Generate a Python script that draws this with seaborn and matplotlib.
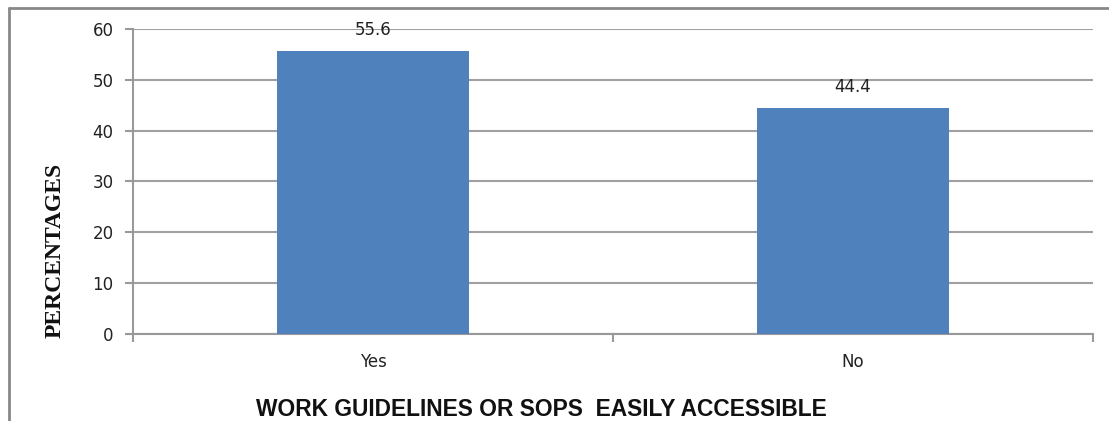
import matplotlib
matplotlib.use("Agg")
import matplotlib.pyplot as plt
import seaborn as sns
import pandas as pd
from matplotlib.lines import Line2D

categories = ["Yes", "No"]
values = [55.6, 44.4]
y_ticks = [0, 10, 20, 30, 40, 50, 60]

sns.set_theme(style="white")
plt.rcParams['font.family'] = ['DejaVu Sans']

df = pd.DataFrame({"cat": categories, "val": values})

fig = plt.figure(figsize=(11.09, 4.21), dpi=100)
ax = fig.add_axes([0.1199, 0.2067, 0.9856 - 0.1199, 0.9311 - 0.2067])

sns.barplot(data=df, x="cat", y="val", color="#4F81BD", width=0.4,
            saturation=1, ax=ax, zorder=3, linewidth=0)

ax.set_ylim(0, 60)
ax.set_xlim(-0.5, 1.5)
ax.set_yticks(y_ticks)
ax.set_yticklabels([str(t) for t in y_ticks], fontsize=12, color="#222222")
ax.yaxis.grid(True, color="#A0A0A0", linewidth=1.5, zorder=0)
ax.set_axisbelow(True)

# x tick labels at category centers, tick marks at category boundaries
ax.set_xticks([0, 1])
ax.set_xticklabels(categories, fontsize=12, color="#222222")
ax.tick_params(axis="x", length=0, pad=14)
ax.set_xticks([-0.5, 0.5, 1.5], minor=True)
ax.tick_params(axis="x", which="minor", length=6, width=1.5, color="#999999", direction="out", bottom=True)
ax.tick_params(axis="y", length=6, width=1.5, color="#999999", direction="out", left=True, pad=8)

for s in ["top", "right"]:
    ax.spines[s].set_visible(False)
for s in ["left", "bottom"]:
    ax.spines[s].set_color("#999999")
    ax.spines[s].set_linewidth(1.5)

for i, v in enumerate(values):
    ax.annotate(f"{v}", (i, v), xytext=(0, 9), textcoords="offset points",
                ha="center", va="bottom", fontsize=12, color="#222222")

ax.set_ylabel("PERCENTAGES", family=["Liberation Serif"], fontweight="bold",
              fontsize=17, color="#111111", va="center")
ax.yaxis.set_label_coords(-0.081, 0.275)
ax.set_xlabel("WORK GUIDELINES OR SOPS  EASILY ACCESSIBLE", family=["Liberation Sans"],
              fontweight="bold", fontsize=16.4, color="#111111", va="center")
ax.xaxis.set_label_coords(0.425, -0.246)

# outer chart frame (top and left edges visible)
W, H = 1109, 421
fig.add_artist(Line2D([9 / W, 1.0], [1 - 8 / H, 1 - 8 / H], color="#888888", linewidth=2,
                      transform=fig.transFigure))
fig.add_artist(Line2D([9 / W, 9 / W], [0.0, 1 - 8 / H], color="#888888", linewidth=2,
                      transform=fig.transFigure))

fig.savefig("out.png", dpi=100)
